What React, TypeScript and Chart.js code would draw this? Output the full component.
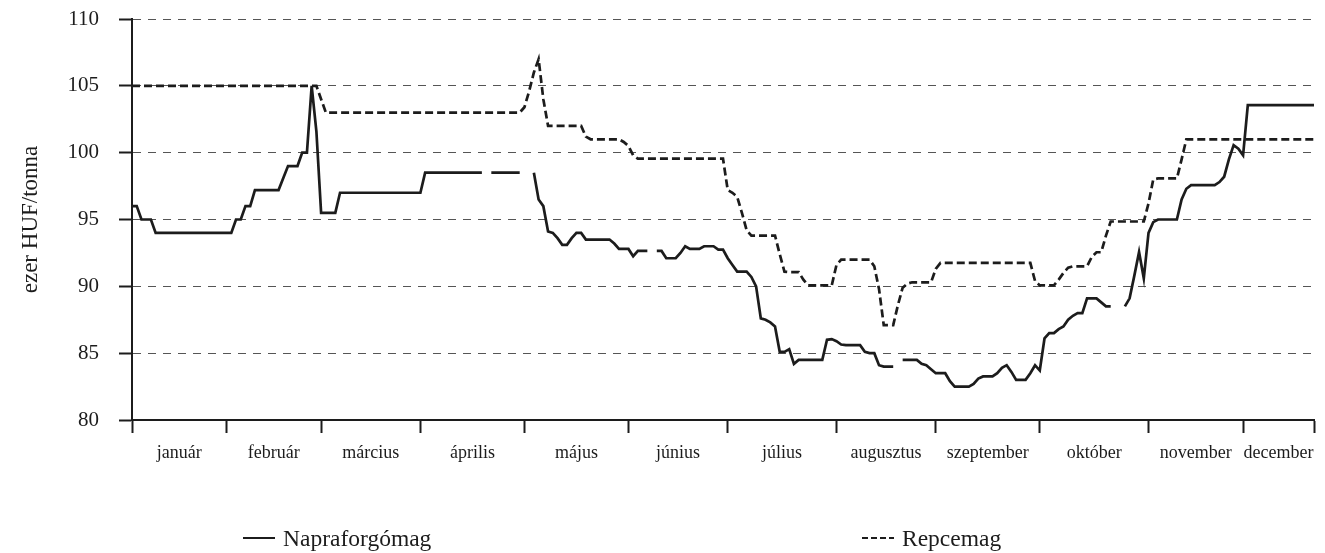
import React, { useEffect, useRef } from "react";
import { Chart, registerables } from "chart.js";

Chart.register(...registerables);

// Month labels and trading days per month (x axis categories)
const MONTHS = [
  "január", "február", "március", "április", "május", "június",
  "július", "augusztus", "szeptember", "október", "november", "december",
];
const MONTH_DAYS = [20, 20, 21, 22, 22, 21, 23, 21, 22, 23, 20, 15];

const Y_MIN = 80;
const Y_MAX = 110;
const Y_STEP = 5;

const SERIES_NAMES = ["Napraforgómag", "Repcemag"];

// Napraforgómag, ezer HUF/tonna, one value per trading day (null = no quote)
const NAPRAFORGOMAG: (number | null)[] = [
  96, 96, 95, 95, 95, 94, 94, 94, 94, 94,
  94, 94, 94, 94, 94, 94, 94, 94, 94, 94,
  94, 94, 95, 95, 96, 96, 97.2, 97.2, 97.2, 97.2,
  97.2, 97.2, 98.1, 99, 99, 99, 100, 100, 105, 101.6,
  95.5, 95.5, 95.5, 95.5, 97, 97, 97, 97, 97, 97,
  97, 97, 97, 97, 97, 97, 97, 97, 97, 97,
  97, 97, 98.5, 98.5, 98.5, 98.5, 98.5, 98.5, 98.5, 98.5,
  98.5, 98.5, 98.5, 98.5, 98.5, null, 98.5, 98.5, 98.5, 98.5,
  98.5, 98.5, 98.5, null, null, 98.5, 96.5, 96, 94.1, 94,
  93.6, 93.1, 93.1, 93.6, 94, 94, 93.5, 93.5, 93.5, 93.5,
  93.5, 93.5, 93.2, 92.8, 92.8, 92.8, 92.25, 92.65, 92.65, 92.65,
  null, 92.65, 92.65, 92.1, 92.1, 92.1, 92.5, 93, 92.8, 92.8,
  92.8, 93, 93, 93, 92.75, 92.75, 92.1, 91.6, 91.1, 91.1,
  91.1, 90.7, 90, 87.6, 87.5, 87.3, 87, 85.1, 85.1, 85.3,
  84.2, 84.5, 84.5, 84.5, 84.5, 84.5, 84.5, 86, 86.05, 85.9,
  85.65, 85.6, 85.6, 85.6, 85.6, 85.1, 85, 85, 84.1, 84,
  84, 84, null, 84.5, 84.5, 84.5, 84.5, 84.2, 84.1, 83.8,
  83.5, 83.5, 83.5, 82.9, 82.5, 82.5, 82.5, 82.5, 82.7, 83.1,
  83.26, 83.26, 83.26, 83.5, 83.9, 84.1, 83.6, 83, 83, 83,
  83.5, 84.1, 83.7, 86.1, 86.5, 86.5, 86.8, 87, 87.5, 87.8,
  88, 88, 89.1, 89.1, 89.1, 88.8, 88.5, 88.5, null, null,
  88.5, 89.1, 90.8, 92.57, 90.6, 94, 94.8, 95, 95, 95,
  95, 95, 96.5, 97.3, 97.57, 97.57, 97.57, 97.57, 97.57, 97.57,
  97.8, 98.2, 99.5, 100.56, 100.3, 99.8, 103.56, 103.56, 103.56, 103.56,
  103.56, 103.56, 103.56, 103.56, 103.56, 103.56, 103.56, 103.56, 103.56, 103.56,
  103.56,
];

// Repcemag, ezer HUF/tonna, one value per trading day
const REPCEMAG: (number | null)[] = [
  105, 105, 105, 105, 105, 105, 105, 105, 105, 105,
  105, 105, 105, 105, 105, 105, 105, 105, 105, 105,
  105, 105, 105, 105, 105, 105, 105, 105, 105, 105,
  105, 105, 105, 105, 105, 105, 105, 105, 105, 105,
  104, 103, 103, 103, 103, 103, 103, 103, 103, 103,
  103, 103, 103, 103, 103, 103, 103, 103, 103, 103,
  103, 103, 103, 103, 103, 103, 103, 103, 103, 103,
  103, 103, 103, 103, 103, 103, 103, 103, 103, 103,
  103, 103, 103, 103.4, 104.6, 106, 107, 104, 102, 102,
  102, 102, 102, 102, 102, 102, 101.2, 101, 101, 101,
  101, 101, 101, 101, 100.8, 100.5, 99.8, 99.55, 99.55, 99.55,
  99.55, 99.55, 99.55, 99.55, 99.55, 99.55, 99.55, 99.55, 99.55, 99.55,
  99.55, 99.55, 99.55, 99.55, 99.55, 99.55, 97.2, 97, 96.7, 95.5,
  94.2, 93.8, 93.8, 93.8, 93.8, 93.8, 93.8, 92.4, 91.1, 91.07,
  91.07, 91.07, 90.5, 90.07, 90.07, 90.07, 90.07, 90.07, 90.07, 91.6,
  92, 92, 92, 92, 92, 92, 92, 91.5, 89.8, 87.1,
  87.1, 87.1, 88.6, 89.9, 90.2, 90.3, 90.3, 90.3, 90.3, 90.3,
  91.3, 91.75, 91.75, 91.75, 91.75, 91.75, 91.75, 91.75, 91.75, 91.75,
  91.75, 91.75, 91.75, 91.75, 91.75, 91.75, 91.75, 91.75, 91.75, 91.75,
  91.75, 90.4, 90.07, 90.07, 90.07, 90.07, 90.5, 91, 91.4, 91.5,
  91.5, 91.5, 91.5, 92.2, 92.55, 92.55, 93.8, 94.85, 94.85, 94.85,
  94.85, 94.85, 94.85, 94.85, 94.85, 96.2, 98, 98.07, 98.07, 98.07,
  98.07, 98.07, 99.5, 101, 101, 101, 101, 101, 101, 101,
  101, 101, 101, 101, 101, 101, 101, 101, 101, 101,
  101, 101, 101, 101, 101, 101, 101, 101, 101, 101,
  101,
];

const FONT = "'Liberation Serif', 'Times New Roman', serif";
const INK = "#1c1c1c";

export default function App() {
  const ref = useRef<HTMLCanvasElement>(null);

  useEffect(() => {
    document.body.style.margin = "0";
    const bounds: number[] = [0];
    MONTH_DAYS.forEach((d) => bounds.push(bounds[bounds.length - 1] + d));
    const mids = MONTHS.map((_, i) => (bounds[i] + bounds[i + 1]) / 2);
    const total = bounds[bounds.length - 1];
    const toPts = (arr: (number | null)[]) => arr.map((v, i) => ({ x: i, y: v }));

    const chart = new Chart(ref.current as HTMLCanvasElement, {
      type: "line",
      data: {
        datasets: [
          {
            label: SERIES_NAMES[0],
            data: toPts(NAPRAFORGOMAG) as any,
            borderColor: INK,
            borderWidth: 2.7,
            pointRadius: 0,
            fill: false,
            tension: 0,
            spanGaps: false,
            borderJoinStyle: "miter",
          },
          {
            label: SERIES_NAMES[1],
            data: toPts(REPCEMAG) as any,
            borderColor: INK,
            borderWidth: 2.7,
            borderDash: [8, 4],
            pointRadius: 0,
            fill: false,
            tension: 0,
            spanGaps: false,
          },
        ],
      },
      options: {
        animation: false,
        responsive: false,
        maintainAspectRatio: false,
        layout: { padding: { left: 0, right: 11, top: 19, bottom: 73 } },
        plugins: {
          legend: { display: false },
          tooltip: { enabled: false },
        },
        scales: {
          x: {
            type: "linear",
            min: 0,
            max: total,
            afterBuildTicks: (s: any) => {
              s.ticks = [...bounds, ...mids]
                .sort((a, b) => a - b)
                .map((v) => ({ value: v }));
            },
            afterFit: (s: any) => {
              s.height = 60;
            },
            ticks: {
              autoSkip: false,
              maxRotation: 0,
              minRotation: 0,
              padding: 9,
              color: INK,
              font: { family: FONT, size: 18 },
              callback: (v: any) => {
                const i = mids.indexOf(Number(v));
                return i >= 0 ? MONTHS[i] : "";
              },
            },
            grid: {
              drawOnChartArea: false,
              drawTicks: true,
              tickLength: 13,
              tickWidth: 2,
              tickColor: (ctx: any) =>
                ctx.tick && bounds.includes(ctx.tick.value) ? INK : "rgba(0,0,0,0)",
            },
            border: { display: true, color: INK, width: 2 },
          },
          y: {
            min: Y_MIN,
            max: Y_MAX,
            afterFit: (s: any) => {
              s.width = 132;
              s.paddingTop = 0;
              s.paddingBottom = 0;
            },
            ticks: {
              stepSize: Y_STEP,
              padding: 20,
              color: INK,
              font: { family: FONT, size: 21 },
            },
            grid: {
              color: "#555",
              lineWidth: 1,
              drawTicks: true,
              tickLength: 13,
              tickWidth: 2,
              tickColor: INK,
            },
            border: { display: true, color: INK, width: 2, dash: [8, 7] },
            title: {
              display: true,
              text: "ezer HUF/tonna",
              color: INK,
              font: { family: FONT, size: 23 },
              padding: { top: 17, bottom: 0 },
            },
          },
        },
      },
    });
    return () => chart.destroy();
  }, []);

  const legendText: React.CSSProperties = {
    fontFamily: FONT,
    fontSize: 23.5,
    color: INK,
    lineHeight: "28px",
    whiteSpace: "nowrap",
  };

  return (
    <div style={{ position: "relative", width: 1325, height: 553 }}>
      <canvas ref={ref} width={1325} height={553} style={{ display: "block" }} />
      <div style={{ position: "absolute", left: 243, top: 524, display: "flex", alignItems: "center" }}>
        <span style={{ display: "inline-block", width: 32, height: 0, borderTop: `2.7px solid ${INK}`, marginRight: 8 }} />
        <span style={legendText}>{SERIES_NAMES[0]}</span>
      </div>
      <div style={{ position: "absolute", left: 862, top: 524, display: "flex", alignItems: "center" }}>
        <span
          style={{
            display: "inline-block",
            width: 32,
            height: 2.7,
            background: `repeating-linear-gradient(90deg, ${INK} 0 6px, transparent 6px 9px)`,
            marginRight: 8,
          }}
        />
        <span style={legendText}>{SERIES_NAMES[1]}</span>
      </div>
    </div>
  );
}
